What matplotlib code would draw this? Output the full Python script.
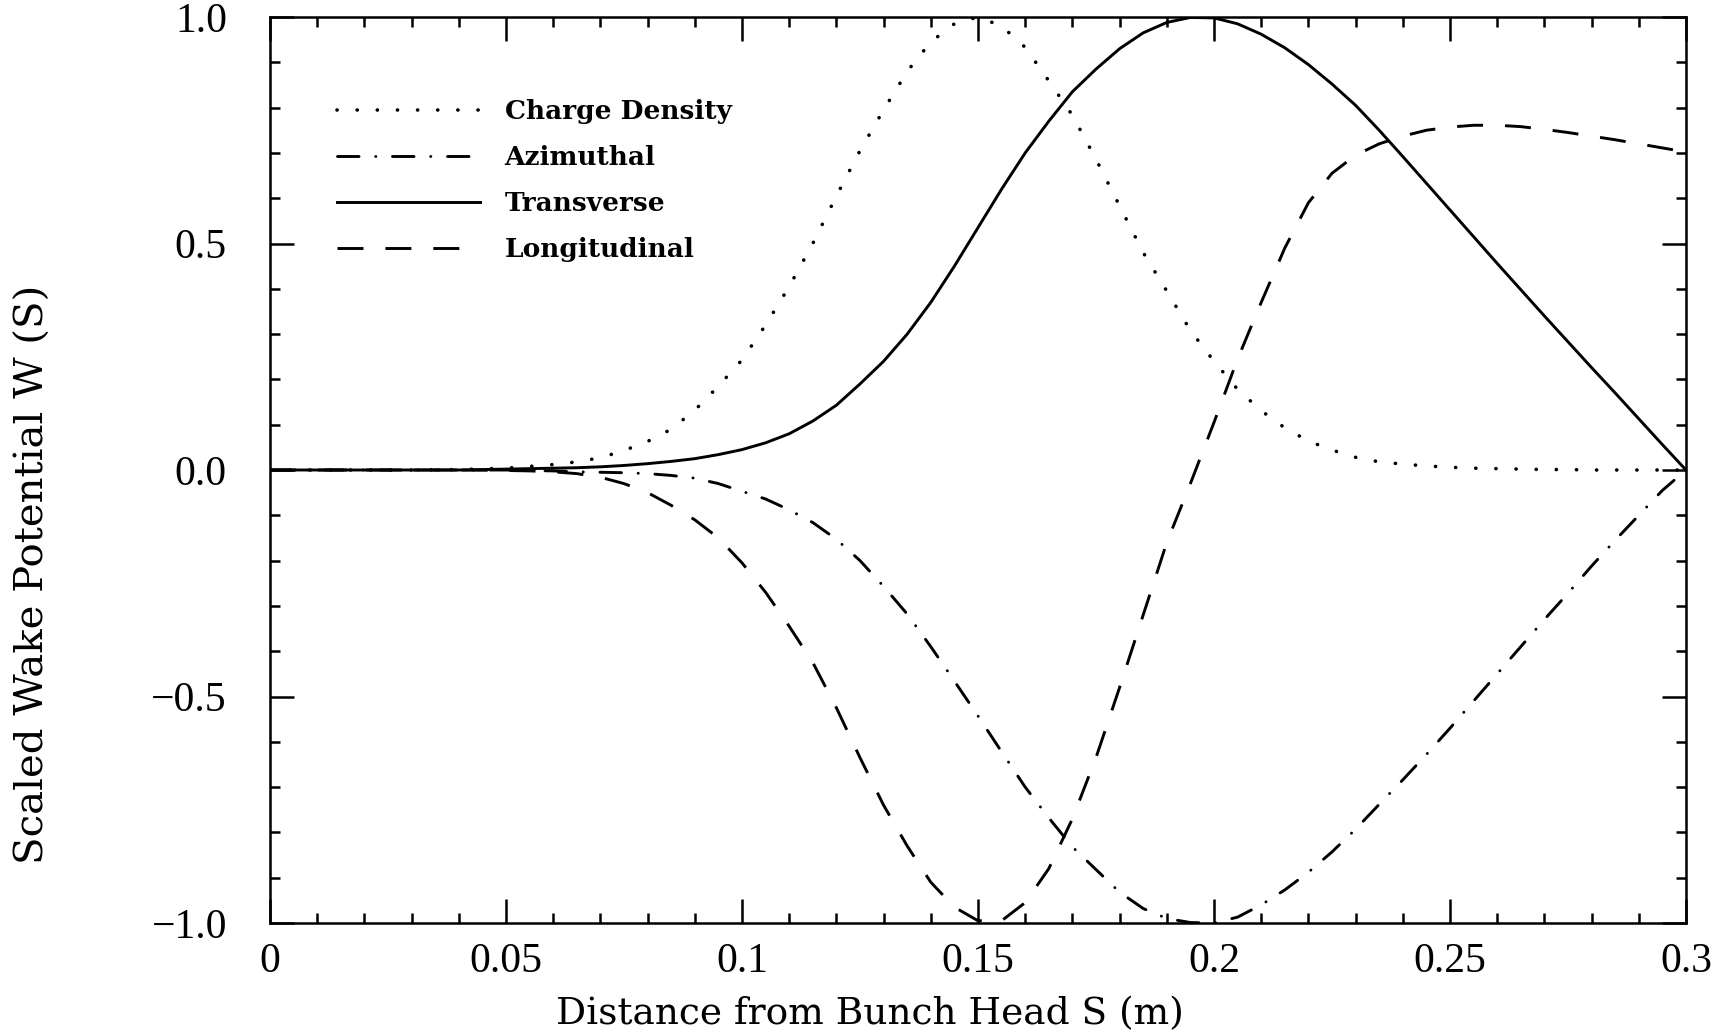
import matplotlib
matplotlib.use("Agg")
import matplotlib.pyplot as plt
from matplotlib.ticker import MultipleLocator, FuncFormatter

plt.rcParams['lines.scale_dashes'] = False

# ---- data ----
s = [0.0, 0.01, 0.02, 0.03, 0.04, 0.05, 0.055, 0.06, 0.065, 0.07, 0.075, 0.08,
     0.085, 0.09, 0.095, 0.1, 0.105, 0.11, 0.115, 0.12, 0.125, 0.13, 0.135, 0.14,
     0.145, 0.15, 0.155, 0.16, 0.165, 0.17, 0.175, 0.18, 0.185, 0.19, 0.195, 0.2,
     0.205, 0.21, 0.215, 0.22, 0.225, 0.23, 0.235, 0.24, 0.245, 0.25, 0.255, 0.26,
     0.265, 0.27, 0.275, 0.28, 0.285, 0.29, 0.295, 0.3]

charge_density = [0.0, 0.0, 0.0, 0.0, 0.001, 0.004, 0.008, 0.012, 0.018, 0.027, 0.043, 0.063,
                  0.09, 0.132, 0.185, 0.243, 0.32, 0.405, 0.50, 0.605, 0.705, 0.795, 0.88, 0.945,
                  0.985, 1.0, 0.98, 0.933, 0.859, 0.783, 0.686, 0.583, 0.48, 0.395, 0.308, 0.24,
                  0.178, 0.131, 0.093, 0.064, 0.044, 0.028, 0.018, 0.013, 0.009, 0.006, 0.004, 0.003,
                  0.002, 0.001, 0.001, 0.0, 0.0, 0.0, 0.0, 0.0]

azimuthal = [0.0, 0.0, 0.0, 0.0, 0.0, 0.0, -0.001, -0.002, -0.004, -0.005, -0.006, -0.008,
             -0.012, -0.018, -0.03, -0.047, -0.064, -0.088, -0.116, -0.153, -0.2, -0.257, -0.318, -0.39,
             -0.466, -0.543, -0.622, -0.70, -0.768, -0.832, -0.882, -0.932, -0.968, -0.99, -0.999, -1.0,
             -0.987, -0.96, -0.927, -0.888, -0.843, -0.793, -0.738, -0.684, -0.628, -0.57, -0.51, -0.45,
             -0.39, -0.33, -0.272, -0.212, -0.155, -0.1, -0.045, 0.0]

transverse = [0.0, 0.0, 0.0, 0.0, 0.0, 0.002, 0.003, 0.004, 0.005, 0.007, 0.010, 0.014,
              0.019, 0.025, 0.034, 0.045, 0.06, 0.08, 0.108, 0.143, 0.19, 0.24, 0.30, 0.37,
              0.45, 0.535, 0.62, 0.70, 0.77, 0.835, 0.885, 0.93, 0.965, 0.988, 0.999, 0.998,
              0.985, 0.962, 0.932, 0.895, 0.852, 0.805, 0.75, 0.692, 0.633, 0.574, 0.515, 0.456,
              0.398, 0.34, 0.283, 0.226, 0.17, 0.113, 0.056, 0.0]

longitudinal = [0.0, 0.0, 0.0, 0.0, 0.0, -0.001, -0.002, -0.004, -0.008, -0.016, -0.03, -0.05,
                -0.078, -0.11, -0.15, -0.205, -0.27, -0.345, -0.425, -0.525, -0.635, -0.74, -0.83, -0.91,
                -0.965, -0.995, -0.995, -0.955, -0.88, -0.77, -0.635, -0.48, -0.32, -0.16, -0.03, 0.105,
                0.245, 0.37, 0.49, 0.59, 0.655, 0.695, 0.72, 0.737, 0.75, 0.757, 0.761, 0.761,
                0.758, 0.752, 0.745, 0.737, 0.729, 0.72, 0.711, 0.702]

labels = ["Charge Density", "Azimuthal", "Transverse", "Longitudinal"]
x_label = "Distance from Bunch Head S (m)"
y_label = "Scaled Wake Potential W (S)"

# ---- figure ----
fig = plt.figure(figsize=(17.16, 10.36), dpi=100)
ax = fig.add_axes([270/1716, 1 - 923/1036, 1416/1716, 906/1036])

lw = 2.1
ax.plot(s, charge_density, color='black', lw=2.6, linestyle=(0, (0.1, 14.4)),
        dash_capstyle='round', label=labels[0])
ax.plot(s, azimuthal, color='black', lw=lw, linestyle=(0, (15.5, 12.0, 0.1, 12.0)),
        dash_capstyle='round', label=labels[1])
ax.plot(s, transverse, color='black', lw=lw, linestyle='-', label=labels[2])
ax.plot(s, longitudinal, color='black', lw=lw, linestyle=(0, (18.7, 15.8)),
        dash_capstyle='butt', label=labels[3])

ax.set_xlim(0, 0.3)
ax.set_ylim(-1.0, 1.0)

ax.xaxis.set_major_locator(MultipleLocator(0.05))
ax.xaxis.set_minor_locator(MultipleLocator(0.01))
ax.yaxis.set_major_locator(MultipleLocator(0.5))
ax.yaxis.set_minor_locator(MultipleLocator(0.1))
ax.xaxis.set_major_formatter(FuncFormatter(lambda v, p: ('%g' % round(v, 4))))
ax.yaxis.set_major_formatter(FuncFormatter(lambda v, p: ('%.1f' % v).replace('-', '\u2212')))

ax.tick_params(which='both', direction='in', top=True, right=True, width=1.8, colors='black')
ax.tick_params(which='major', length=17)
ax.tick_params(which='minor', length=7)
ax.tick_params(axis='x', which='major', pad=14)
ax.tick_params(axis='y', which='major', pad=31)
for lab in ax.get_xticklabels() + ax.get_yticklabels():
    lab.set_fontfamily('Liberation Serif')
    lab.set_fontsize(30)

for sp in ax.spines.values():
    sp.set_linewidth(1.8)

fig.text(870/1716, 1 - 1014/1036, x_label, ha='center', va='center',
         fontfamily='DejaVu Serif', fontsize=27)
fig.text(33/1716, 1 - 574/1036, y_label, ha='center', va='center', rotation=90,
         fontfamily='DejaVu Serif', fontsize=29)

leg = ax.legend(loc='upper left', bbox_to_anchor=(67/1416, (923 - 99.5)/906),
                frameon=False, borderpad=0, borderaxespad=0,
                handlelength=5.4, handletextpad=0.95, labelspacing=0.79,
                prop={'family': 'DejaVu Serif', 'weight': 'bold', 'size': 19})

fig.savefig('out.png', dpi=100)
